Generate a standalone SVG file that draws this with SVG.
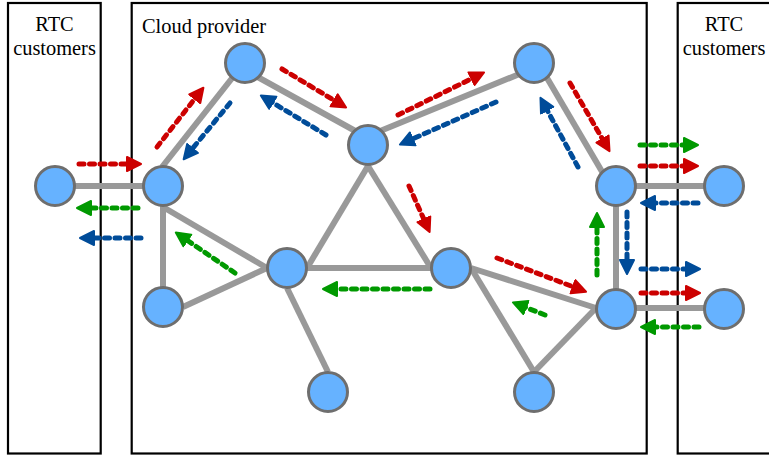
<svg xmlns="http://www.w3.org/2000/svg" width="769" height="458" viewBox="0 0 769 458">
<style>
.box{fill:#fff;stroke:#000;stroke-width:2.2}
.lbl{font-family:"Liberation Serif","Times New Roman",serif;font-size:20.4px;fill:#000}
.link{stroke:#999;stroke-width:6;fill:none}
.node{fill:#66b2ff;stroke:#6e6e6e;stroke-width:3}
.fl{fill:none;stroke-width:5;stroke-linecap:round;stroke-dasharray:5 5.5}
.r{stroke:#cc0000;marker-end:url(#ar)}
.b{stroke:#004c99;marker-end:url(#ab)}
.g{stroke:#009900;marker-end:url(#ag)}
</style>
<defs>
<marker id="ar" markerUnits="userSpaceOnUse" viewBox="0 -10 20 20" markerWidth="20" markerHeight="20" refX="3" refY="0" orient="auto"><path d="M1,-7 L15,0 L1,7 z" fill="#cc0000" stroke="#cc0000" stroke-width="2" stroke-linejoin="round"/></marker>
<marker id="ab" markerUnits="userSpaceOnUse" viewBox="0 -10 20 20" markerWidth="20" markerHeight="20" refX="3" refY="0" orient="auto"><path d="M1,-7 L15,0 L1,7 z" fill="#004c99" stroke="#004c99" stroke-width="2" stroke-linejoin="round"/></marker>
<marker id="ag" markerUnits="userSpaceOnUse" viewBox="0 -10 20 20" markerWidth="20" markerHeight="20" refX="3" refY="0" orient="auto"><path d="M1,-7 L15,0 L1,7 z" fill="#009900" stroke="#009900" stroke-width="2" stroke-linejoin="round"/></marker>
</defs>
<rect width="769" height="458" fill="#fff"/>
<g id="regions">
<rect class="box" x="8" y="3" width="92.7" height="450.5"/>
<rect class="box" x="131.7" y="3" width="515" height="450.5"/>
<rect class="box" x="677.7" y="3" width="120" height="450.5"/>
<text class="lbl" x="54.5" y="30.5" text-anchor="middle">RTC</text>
<text class="lbl" x="54.5" y="55" text-anchor="middle">customers</text>
<text class="lbl" x="142" y="33">Cloud provider</text>
<text class="lbl" x="724" y="30.5" text-anchor="middle">RTC</text>
<text class="lbl" x="724" y="55" text-anchor="middle">customers</text>
</g>
<g id="links">
<line class="link" x1="55" y1="186" x2="163" y2="186"/>
<line class="link" x1="244" y1="63" x2="162" y2="167"/>
<line class="link" x1="163" y1="186" x2="163" y2="307"/>
<line class="link" x1="163" y1="207" x2="267" y2="268"/>
<line class="link" x1="183" y1="307" x2="267" y2="268"/>
<line class="link" x1="245" y1="70" x2="368" y2="138"/>
<line class="link" x1="368" y1="136" x2="534" y2="68"/>
<line class="link" x1="307" y1="268" x2="368" y2="166"/>
<line class="link" x1="431" y1="268" x2="368" y2="166"/>
<line class="link" x1="307" y1="268" x2="431" y2="268"/>
<line class="link" x1="287" y1="288" x2="328" y2="372"/>
<line class="link" x1="471" y1="268" x2="596" y2="308"/>
<line class="link" x1="471" y1="268" x2="534" y2="372"/>
<line class="link" x1="534" y1="372" x2="596" y2="308"/>
<line class="link" x1="540" y1="66" x2="604" y2="175"/>
<line class="link" x1="616" y1="186" x2="616" y2="308"/>
<line class="link" x1="616" y1="186" x2="724" y2="186"/>
<line class="link" x1="616" y1="308" x2="724" y2="308"/>
</g>
<g id="flows">
<line class="fl r" x1="79" y1="164" x2="129" y2="164"/>
<line class="fl g" x1="138" y1="208" x2="89" y2="208"/>
<line class="fl b" x1="141" y1="238" x2="92" y2="238"/>
<line class="fl g" x1="235" y1="273" x2="185.7" y2="239.3"/>
<line class="fl r" x1="157" y1="147" x2="196" y2="97.2"/>
<line class="fl b" x1="230" y1="103" x2="191.3" y2="150"/>
<line class="fl r" x1="282" y1="69" x2="335.8" y2="101.3"/>
<line class="fl b" x1="326" y1="135" x2="271.1" y2="101.7"/>
<line class="fl r" x1="398" y1="115" x2="473.3" y2="77.8"/>
<line class="fl b" x1="496" y1="102" x2="410.9" y2="139.7"/>
<line class="fl r" x1="409" y1="186" x2="424.7" y2="221.1"/>
<line class="fl g" x1="430" y1="289" x2="335" y2="289"/>
<line class="fl r" x1="570" y1="83" x2="603.5" y2="140.8"/>
<line class="fl b" x1="578" y1="167" x2="546.2" y2="108.4"/>
<line class="fl g" x1="640" y1="145" x2="686" y2="145"/>
<line class="fl r" x1="640" y1="166" x2="686" y2="166"/>
<line class="fl b" x1="698" y1="203" x2="653" y2="203"/>
<line class="fl g" x1="597" y1="275" x2="597" y2="225"/>
<line class="fl b" x1="627" y1="212" x2="627" y2="262"/>
<line class="fl b" x1="641" y1="269" x2="688" y2="269"/>
<line class="fl r" x1="641" y1="293" x2="688" y2="293"/>
<line class="fl g" x1="699" y1="327" x2="653" y2="327"/>
<line class="fl r" x1="497" y1="258" x2="574.8" y2="287.4"/>
<line class="fl g" x1="545" y1="315" x2="524.1" y2="306.8"/>
</g>
<g id="node-a"><circle class="node" cx="55" cy="186" r="19.5"/></g>
<g id="node-b"><circle class="node" cx="163" cy="186" r="19.5"/></g>
<g id="node-c"><circle class="node" cx="163" cy="307" r="19.5"/></g>
<g id="node-d"><circle class="node" cx="245" cy="63" r="19.5"/></g>
<g id="node-e"><circle class="node" cx="368" cy="145" r="19.5"/></g>
<g id="node-f"><circle class="node" cx="287" cy="268" r="19.5"/></g>
<g id="node-g"><circle class="node" cx="451" cy="268" r="19.5"/></g>
<g id="node-h"><circle class="node" cx="534" cy="63" r="19.5"/></g>
<g id="node-i"><circle class="node" cx="616" cy="186" r="19.5"/></g>
<g id="node-j"><circle class="node" cx="724" cy="186" r="19.5"/></g>
<g id="node-k"><circle class="node" cx="616" cy="309" r="19.5"/></g>
<g id="node-l"><circle class="node" cx="724" cy="309" r="19.5"/></g>
<g id="node-m"><circle class="node" cx="328" cy="392" r="19.5"/></g>
<g id="node-n"><circle class="node" cx="534" cy="392" r="19.5"/></g>
</svg>
